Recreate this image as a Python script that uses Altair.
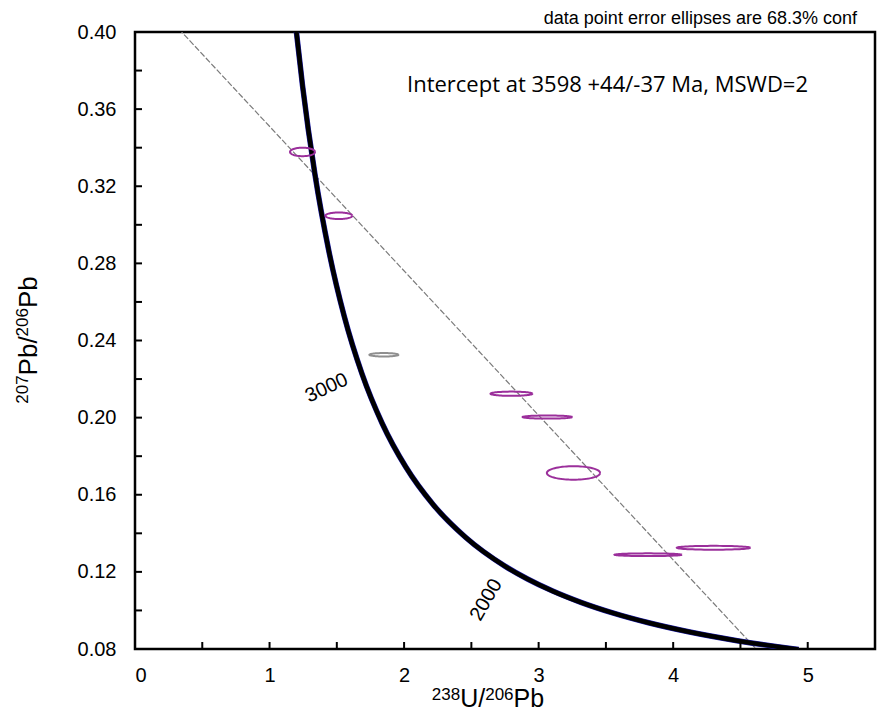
import altair as alt
import pandas as pd
import numpy as np

# ---- Concordia curve (age in Ma, 238U/206Pb, 207Pb/206Pb) ----
conc_age = [1190, 1200, 1300, 1400, 1500, 1600, 1700, 1800, 1900, 2000,
            2200, 2400, 2600, 2800, 3000, 3200, 3400, 3600, 3800, 3920]
conc_x = [4.9325, 4.8875, 4.4756, 4.1227, 3.8170, 3.5497, 3.3140, 3.1046, 2.9174, 2.7490,
          2.4586, 2.2170, 2.0129, 1.8384, 1.6874, 1.5557, 1.4398, 1.3370, 1.2453, 1.1949]
conc_y = [0.07972, 0.08012, 0.08432, 0.08881, 0.09360, 0.09872, 0.10419, 0.11004, 0.11629, 0.12299,
          0.13782, 0.15483, 0.17437, 0.19682, 0.22266, 0.25242, 0.28674, 0.32635, 0.37211, 0.40292]

# ---- Concordia age labels ----
lab_text = ["3000", "2000"]
lab_x = [1.425, 2.610]
lab_y = [0.2154, 0.1055]
lab_angle = [335, 300]

# ---- Discordia line ----
disc_x = [0.0, 5.5]
disc_y = [0.4260, 0.0138]

# ---- Data point error ellipses ----
ell_id = [1, 2, 3, 4, 5, 6, 7, 8]
ell_cx = [1.245, 1.515, 1.850, 2.798, 3.065, 3.259, 3.814, 4.300]
ell_cy = [0.3378, 0.3047, 0.2326, 0.2124, 0.2003, 0.1713, 0.1289, 0.1325]
ell_rx = [0.093, 0.100, 0.108, 0.156, 0.184, 0.198, 0.250, 0.273]
ell_ry = [0.0022, 0.0017, 0.0009, 0.0011, 0.0008, 0.0035, 0.0007, 0.0010]
ell_group = ["used", "used", "excluded", "used", "used", "used", "used", "used"]

x_ticks = [0, 1, 2, 3, 4, 5]
x_minor = [0.5, 1.0, 1.5, 2.0, 2.5, 3.0, 3.5, 4.0, 4.5, 5.0]
y_ticks = [0.08, 0.12, 0.16, 0.20, 0.24, 0.28, 0.32, 0.36, 0.40]
y_minor = [0.10, 0.12, 0.14, 0.16, 0.18, 0.20, 0.22, 0.24, 0.26, 0.28, 0.30, 0.32, 0.34, 0.36, 0.38]

# axis title pieces (text, is superscript)
x_title_parts = [("238", True), ("U/", False), ("206", True), ("Pb", False)]
y_title_parts = [("207", True), ("Pb/", False), ("206", True), ("Pb", False)]

W, H = 740, 617
FONT = "Liberation Sans"

conc_df = pd.DataFrame({"age": conc_age, "x": conc_x, "y": conc_y})
lab_df = pd.DataFrame({"t": lab_text, "x": lab_x, "y": lab_y, "a": lab_angle})
disc_df = pd.DataFrame({"x": disc_x, "y": disc_y})

# ellipse outlines built from centre and semi-axes
rows = []
th = np.linspace(0, 2 * np.pi, 73)
for i, cx, cy, rx, ry, g in zip(ell_id, ell_cx, ell_cy, ell_rx, ell_ry, ell_group):
    for k, t in enumerate(th):
        rows.append({"id": i, "k": k, "x": cx + rx * np.cos(t), "y": cy + ry * np.sin(t), "g": g})
ell_df = pd.DataFrame(rows)

xs = alt.Scale(domain=[0, 5.5], nice=False, zero=False)
ys = alt.Scale(domain=[0.08, 0.40], nice=False, zero=False)

x_axis = alt.Axis(values=x_ticks, format="d", ticks=False, domain=False, grid=False,
                  labelFont=FONT, labelFontSize=20, labelColor="black", labelPadding=16, title=None)
y_axis = alt.Axis(values=y_ticks, format=".2f", ticks=False, domain=False, grid=False,
                  labelFont=FONT, labelFontSize=20, labelColor="black", labelPadding=19, title=None)

base_axes = alt.Chart(pd.DataFrame({"x": [0.0], "y": [0.08]})).mark_point(opacity=0).encode(
    x=alt.X("x:Q", scale=xs, axis=x_axis),
    y=alt.Y("y:Q", scale=ys, axis=y_axis),
)

xt = alt.Chart(pd.DataFrame({"v": x_minor})).mark_rule(color="black", strokeWidth=2).encode(
    x=alt.X("v:Q", scale=xs), y=alt.value(H), y2=alt.value(H - 7))
yt = alt.Chart(pd.DataFrame({"v": y_minor})).mark_rule(color="black", strokeWidth=2).encode(
    y=alt.Y("v:Q", scale=ys), x=alt.value(0), x2=alt.value(7))

disc = alt.Chart(disc_df).mark_line(color="#7a7a7a", strokeWidth=1.2, strokeDash=[6, 2], clip=True).encode(
    x=alt.X("x:Q", scale=xs), y=alt.Y("y:Q", scale=ys))

conc_blue = alt.Chart(conc_df).mark_line(color="#1c1ca8", strokeWidth=5.5, interpolate="monotone", clip=True).encode(
    x=alt.X("x:Q", scale=xs), y=alt.Y("y:Q", scale=ys), order="x:Q")
conc = alt.Chart(conc_df).mark_line(color="black", strokeWidth=4.5, interpolate="monotone", clip=True).encode(
    x=alt.X("x:Q", scale=xs), y=alt.Y("y:Q", scale=ys), order="x:Q")

ells = alt.Chart(ell_df).mark_line(strokeWidth=2, clip=True).encode(
    x=alt.X("x:Q", scale=xs), y=alt.Y("y:Q", scale=ys),
    detail="id:N", order="k:Q",
    color=alt.Color("g:N", scale=alt.Scale(domain=["used", "excluded"], range=["#9b2f9b", "#8f8f8f"]), legend=None),
)

labels = alt.Chart(lab_df).mark_text(font=FONT, fontSize=20, color="black", align="center", baseline="middle").encode(
    x=alt.X("x:Q", scale=xs), y=alt.Y("y:Q", scale=ys), text="t:N", angle=alt.Angle("a:Q", scale=None))

intercept = alt.Chart(pd.DataFrame({"t": ["Intercept at 3598 +44/-37 Ma, MSWD=2"]})).mark_text(
    font="Open Sans", fontSize=22, color="black", align="left", baseline="alphabetic").encode(
    x=alt.value(272), y=alt.value(60), text="t:N")

caption = alt.Chart(pd.DataFrame({"t": ["data point error ellipses are 68.3% conf"]})).mark_text(
    font=FONT, fontSize=18, color="black", align="right", baseline="alphabetic").encode(
    x=alt.value(722), y=alt.value(-8), text="t:N")

# ---- axis titles with superscripts, set piece by piece ----
def text_width(s, size):
    w = {"0": .556, "1": .556, "2": .556, "3": .556, "4": .556, "5": .556, "6": .556, "7": .556,
         "8": .556, "9": .556, "U": .722, "/": .278, "P": .667, "b": .556}
    return sum(w[c] for c in s) * size

title_layers = []
# x title: big 25 px, superscript 17 px, centred at x=353
BIG_X, SUP_X = 25, 17
tot = sum(text_width(s, SUP_X if sup else BIG_X) for s, sup in x_title_parts)
pos = 353 - tot / 2
for s, sup in x_title_parts:
    size = SUP_X if sup else BIG_X
    title_layers.append(
        alt.Chart(pd.DataFrame({"t": [s]})).mark_text(
            font=FONT, fontSize=size, color="black", align="left", baseline="alphabetic").encode(
            x=alt.value(pos), y=alt.value(668 if sup else 675), text="t:N"))
    pos += text_width(s, size)

# y title: rotated, big 26 px, superscript 17 px, centred at y=308
BIG_Y, SUP_Y = 26, 17
tot = sum(text_width(s, SUP_Y if sup else BIG_Y) for s, sup in y_title_parts)
pos = 308 + tot / 2
for s, sup in y_title_parts:
    size = SUP_Y if sup else BIG_Y
    title_layers.append(
        alt.Chart(pd.DataFrame({"t": [s]})).mark_text(
            font=FONT, fontSize=size, color="black", align="left", baseline="alphabetic", angle=270).encode(
            x=alt.value(-107 if sup else -98), y=alt.value(pos), text="t:N"))
    pos -= text_width(s, size)

chart = alt.layer(base_axes, disc, conc_blue, conc, ells, xt, yt, labels, intercept, caption,
                  *title_layers).properties(
    width=W, height=H,
    autosize=alt.AutoSizeParams(type="none"),
    padding={"left": 135, "top": 32, "right": 6, "bottom": 66},
    background="white",
).configure_view(stroke="black", strokeWidth=2.5)

chart.save("out.html", embed_options={"renderer": "svg", "actions": False})
